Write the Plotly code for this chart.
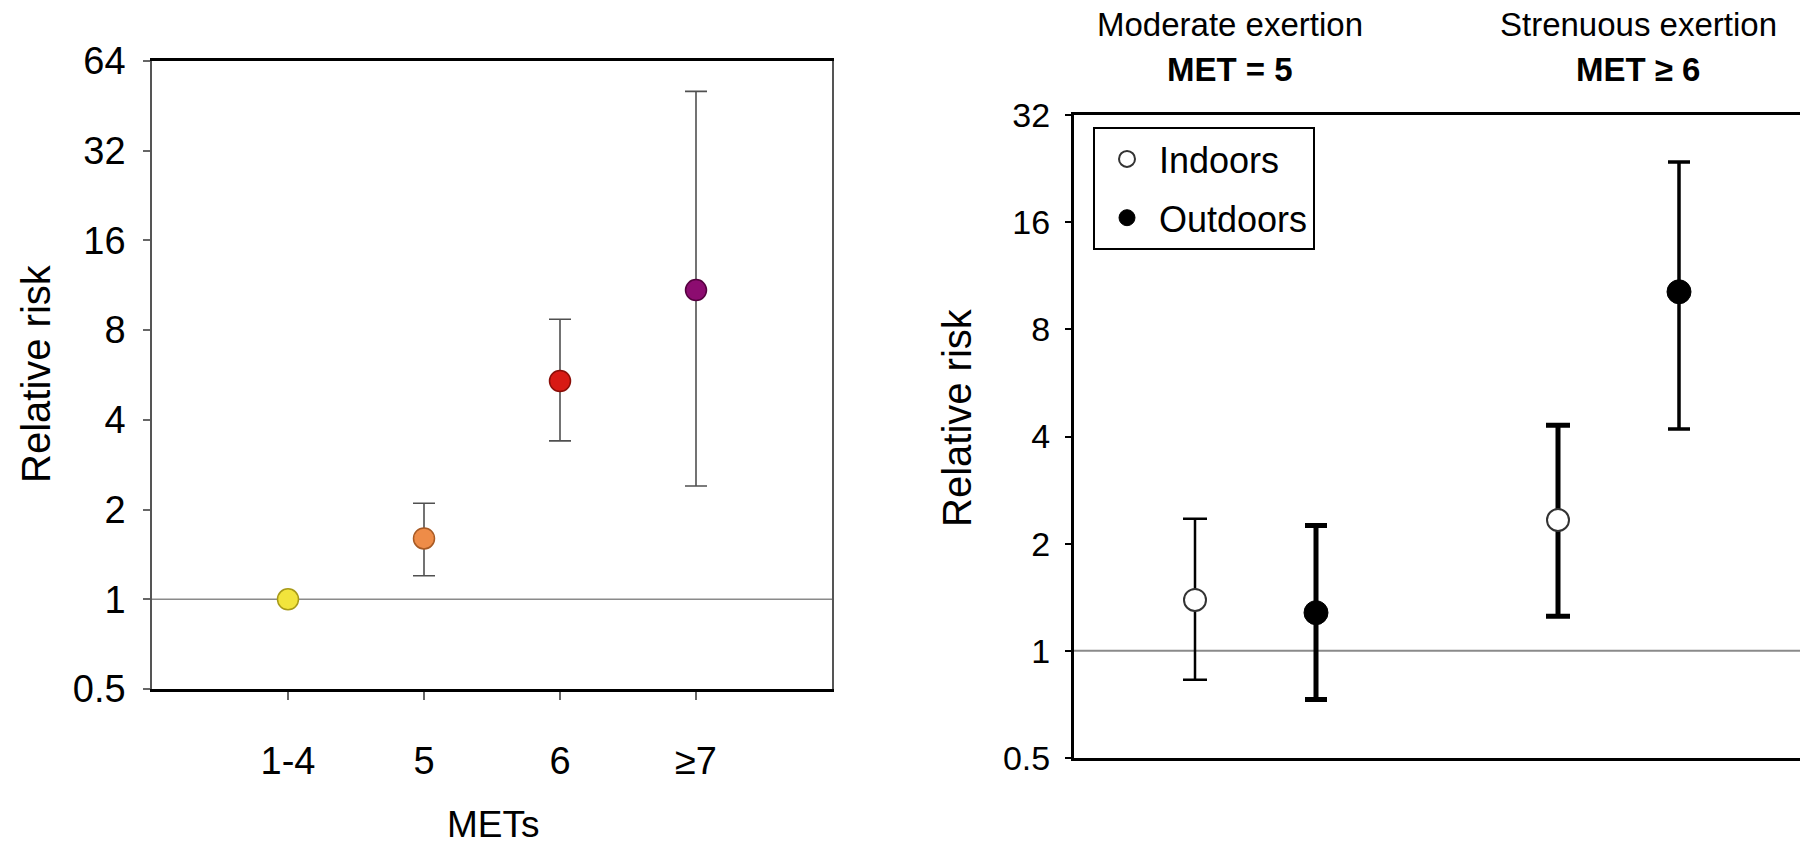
import plotly.graph_objects as go
import numpy as np

# ---------------- data ----------------
# Left panel: relative risk by MET level
met_labels = ["1-4", "5", "6", "≥7"]
met_rr = [1.0, 1.6, 5.4, 10.9]
met_lo = [None, 1.2, 3.4, 2.4]
met_hi = [None, 2.1, 8.7, 50.6]
met_colors = ["#F2E43C", "#EE8C48", "#D81A14", "#8C0C70"]
met_edges = ["#A89A18", "#A85A24", "#8A0E08", "#55003F"]

left_ticks = [0.5, 1, 2, 4, 8, 16, 32, 64]
right_ticks = [0.5, 1, 2, 4, 8, 16, 32]

# Right panel: indoor vs outdoor, moderate vs strenuous exertion
exertion = ["Moderate exertion", "Strenuous exertion"]
exertion_met = ["MET = 5", "MET ≥ 6"]
indoor_rr = [1.39, 2.33]
indoor_lo = [0.83, 1.25]
indoor_hi = [2.35, 4.3]
outdoor_rr = [1.28, 10.2]
outdoor_lo = [0.73, 4.2]
outdoor_hi = [2.25, 23.6]

# ---------------- figure ----------------
W, H = 1800, 851
FONT = "Liberation Sans, Arial, sans-serif"
fig = go.Figure()

# reference lines at RR = 1
fig.add_trace(go.Scatter(x=[-1, 4], y=[1, 1], mode="lines",
                         line=dict(color="#8a8a8a", width=1.5),
                         hoverinfo="skip", showlegend=False, xaxis="x", yaxis="y"))
fig.add_trace(go.Scatter(x=[0, 6], y=[1, 1], mode="lines",
                         line=dict(color="#8a8a8a", width=2),
                         hoverinfo="skip", showlegend=False, xaxis="x2", yaxis="y2"))

# left panel points
for i, lab in enumerate(met_labels):
    err = None
    if met_lo[i] is not None:
        err = dict(type="data", symmetric=False,
                   array=[met_hi[i] - met_rr[i]],
                   arrayminus=[met_rr[i] - met_lo[i]],
                   color="#505050", thickness=1.6, width=11)
    fig.add_trace(go.Scatter(
        x=[i], y=[met_rr[i]], mode="markers", name=lab,
        marker=dict(size=21, color=met_colors[i],
                    line=dict(color=met_edges[i], width=1.5)),
        error_y=err, showlegend=False, xaxis="x", yaxis="y"))

# right panel points
indoor_w = [2.5, 5]
outdoor_w = [5, 3.5]
for g in range(len(exertion)):
    xin = 1 + 3 * g
    xout = 2 + 3 * g
    fig.add_trace(go.Scatter(
        x=[xin], y=[indoor_rr[g]], mode="markers", name="Indoors",
        legendgroup="in", showlegend=(g == 0),
        marker=dict(size=22, color="white", line=dict(color="#333333", width=2)),
        error_y=dict(type="data", symmetric=False,
                     array=[indoor_hi[g] - indoor_rr[g]],
                     arrayminus=[indoor_rr[g] - indoor_lo[g]],
                     color="black", thickness=indoor_w[g], width=12),
        xaxis="x2", yaxis="y2"))
    fig.add_trace(go.Scatter(
        x=[xout], y=[outdoor_rr[g]], mode="markers", name="Outdoors",
        legendgroup="out", showlegend=(g == 0),
        marker=dict(size=24, color="black", line=dict(color="black", width=1)),
        error_y=dict(type="data", symmetric=False,
                     array=[outdoor_hi[g] - outdoor_rr[g]],
                     arrayminus=[outdoor_rr[g] - outdoor_lo[g]],
                     color="black", thickness=outdoor_w[g], width=11),
        xaxis="x2", yaxis="y2"))

def fmt(v):
    return ("%g" % v)

fig.update_layout(
    width=W, height=H,
    margin=dict(l=0, r=0, t=0, b=0, autoexpand=False),
    paper_bgcolor="white", plot_bgcolor="white",
    font=dict(family=FONT, color="black"),
    showlegend=True,
    legend=dict(x=1093 / W, y=1 - 127 / H, xanchor="left", yanchor="top",
                bordercolor="black", borderwidth=2, bgcolor="white",
                font=dict(size=36, family=FONT, color="black"),
                tracegroupgap=9, itemsizing="trace", itemwidth=54),
    xaxis=dict(domain=[152 / W, 832 / W], range=[-1, 4], anchor="y",
               tickvals=list(range(len(met_labels))), ticktext=met_labels,
               ticks="outside", ticklen=8, tickwidth=1.5, tickcolor="#666",
               ticklabelstandoff=29, automargin=False,
               tickfont=dict(size=38, family=FONT),
               showline=True, linecolor="black", linewidth=2.5, mirror=True,
               showgrid=False, zeroline=False, fixedrange=True),
    yaxis=dict(domain=[1 - 689 / H, 1 - 61 / H], type="log", anchor="x",
               range=[np.log10(0.5), np.log10(64)],
               tickvals=left_ticks, ticktext=[fmt(v) for v in left_ticks],
               ticks="outside", ticklen=7, tickwidth=1.5, tickcolor="#666",
               ticklabelstandoff=10, automargin=False,
               tickfont=dict(size=38, family=FONT),
               showline=True, linecolor="#555", linewidth=1.5, mirror=True,
               showgrid=False, zeroline=False, fixedrange=True),
    xaxis2=dict(domain=[1074 / W, 1.0], range=[0, 6], anchor="y2",
                showticklabels=False, ticks="", automargin=False,
                showline=True, linecolor="black", linewidth=3, mirror=True,
                showgrid=False, zeroline=False, fixedrange=True),
    yaxis2=dict(domain=[1 - 758 / H, 1 - 115 / H], type="log",
                range=[np.log10(0.5), np.log10(32)], anchor="x2",
                tickvals=right_ticks, ticktext=[fmt(v) for v in right_ticks],
                ticks="outside", ticklen=6, tickwidth=2, tickcolor="black",
                ticklabelstandoff=8, automargin=False,
                tickfont=dict(size=34, family=FONT),
                showline=True, linecolor="black", linewidth=3,
                showgrid=False, zeroline=False, fixedrange=True),
)

ann = []
ann.append(dict(text="Relative risk", x=36 / W, y=1 - 374 / H, xref="paper", yref="paper",
                textangle=-90, showarrow=False, xanchor="center", yanchor="middle",
                font=dict(size=40, family=FONT)))
ann.append(dict(text="METs", x=493 / W, y=1 - 824 / H, xref="paper", yref="paper",
                showarrow=False, xanchor="center", yanchor="middle",
                font=dict(size=37, family=FONT)))
ann.append(dict(text="Relative risk", x=957 / W, y=1 - 417 / H, xref="paper", yref="paper",
                textangle=-90, showarrow=False, xanchor="center", yanchor="middle",
                font=dict(size=40, family=FONT)))
title_x = [1230 / W, 1638 / W]
for g in range(len(exertion)):
    ann.append(dict(text=exertion[g], x=title_x[g], y=1 - 24 / H, xref="paper", yref="paper",
                    showarrow=False, xanchor="center", yanchor="middle",
                    font=dict(size=33, family=FONT)))
    ann.append(dict(text="<b>" + exertion_met[g] + "</b>", x=title_x[g], y=1 - 69 / H,
                    xref="paper", yref="paper",
                    showarrow=False, xanchor="center", yanchor="middle",
                    font=dict(size=33, family=FONT)))
fig.update_layout(annotations=ann)

fig.write_html("out.html", config={"displayModeBar": False})
